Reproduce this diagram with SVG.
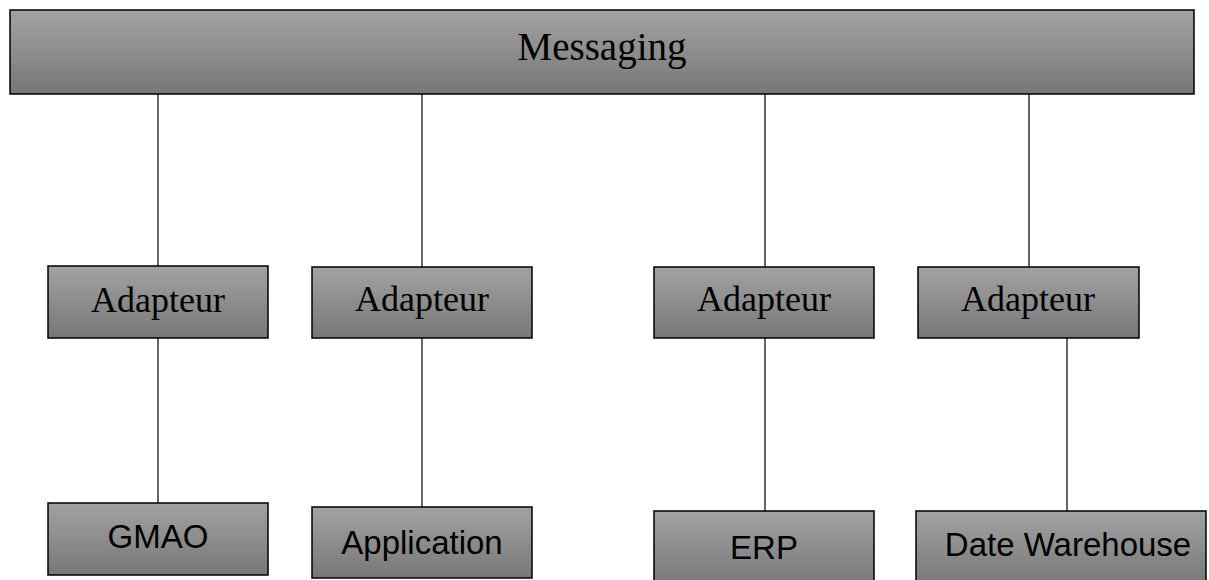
<svg xmlns="http://www.w3.org/2000/svg" width="1209" height="580" viewBox="0 0 1209 580">
<defs>
<linearGradient id="g" x1="0" y1="0" x2="0" y2="1">
<stop offset="0" stop-color="#a2a2a2"/>
<stop offset="1" stop-color="#777777"/>
</linearGradient>
<style>
.box{fill:url(#g);stroke:#000;stroke-width:1.5}
.serif{font-family:"Liberation Serif","Times New Roman",serif;font-size:36px;fill:#000;text-anchor:middle}
.big{font-size:39px}
.sans{font-family:"Liberation Sans",Arial,sans-serif;font-size:33px;fill:#000;text-anchor:middle}
.conn line{stroke:#000;stroke-width:1.2}
</style>
</defs>
<rect width="1209" height="580" fill="#fff"/>
<g class="conn" id="connectors">
<line x1="158" y1="94" x2="158" y2="266"/>
<line x1="422" y1="94" x2="422" y2="267"/>
<line x1="765" y1="94" x2="765" y2="267"/>
<line x1="1029" y1="94" x2="1029" y2="267"/>
<line x1="158" y1="338" x2="158" y2="503"/>
<line x1="422" y1="338" x2="422" y2="507"/>
<line x1="765" y1="338" x2="765" y2="511"/>
<line x1="1067" y1="338" x2="1067" y2="511"/>
</g>
<g id="messaging"><rect class="box" x="10" y="10" width="1184" height="84"/><text class="serif big" x="602" y="60">Messaging</text></g>
<g id="adapteur1"><rect class="box" x="48" y="266" width="220" height="72"/><text class="serif" x="158" y="312">Adapteur</text></g>
<g id="adapteur2"><rect class="box" x="312" y="267" width="220" height="71"/><text class="serif" x="422" y="311">Adapteur</text></g>
<g id="adapteur3"><rect class="box" x="654" y="267" width="220" height="71"/><text class="serif" x="764" y="311">Adapteur</text></g>
<g id="adapteur4"><rect class="box" x="918" y="267" width="221" height="71"/><text class="serif" x="1028" y="311">Adapteur</text></g>
<g id="gmao"><rect class="box" x="48" y="503" width="220" height="72"/><text class="sans" x="158" y="548">GMAO</text></g>
<g id="application"><rect class="box" x="312" y="507" width="220" height="71"/><text class="sans" x="422" y="554">Application</text></g>
<g id="erp"><rect class="box" x="654" y="511" width="220" height="75"/><text class="sans" x="764" y="559">ERP</text></g>
<g id="datewarehouse"><rect class="box" x="916" y="511" width="290" height="75"/><text class="sans" x="1068" y="556">Date Warehouse</text></g>
</svg>
